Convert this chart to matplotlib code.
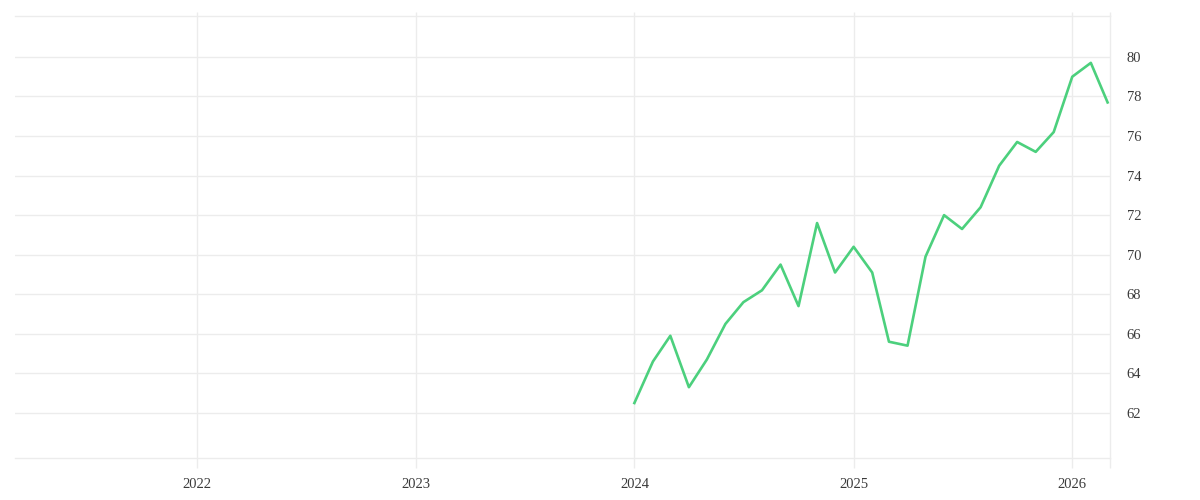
import matplotlib
matplotlib.use("Agg")
import matplotlib.pyplot as plt
import matplotlib.dates as mdates
import pandas as pd

# monthly values, Jan 2024 - Mar 2026
months = pd.date_range("2024-01-01", periods=27, freq="MS")
values = [62.5, 64.6, 65.9, 63.3, 64.7, 66.5, 67.6, 68.2, 69.5, 67.4,
          71.6, 69.1, 70.4, 69.1, 65.6, 65.4, 69.9, 72.0, 71.3, 72.4,
          74.5, 75.7, 75.2, 76.2, 79.0, 79.7, 77.7]

year_ticks = [pd.Timestamp(f"{y}-01-01") for y in [2022, 2023, 2024, 2025, 2026]]
year_labels = ["2022", "2023", "2024", "2025", "2026"]
y_ticks = [62, 64, 66, 68, 70, 72, 74, 76, 78, 80]

grid_col = "#ececec"
text_col = "#3a3a3a"

plt.rcParams["font.family"] = ["Liberation Serif", "DejaVu Serif"]

fig = plt.figure(figsize=(12, 5), dpi=100)
ax = fig.add_axes([15 / 1200, 1 - 458 / 500, 1095 / 1200, 442 / 500])

ax.plot(months, values, color="#4cd07d", linewidth=1.9, zorder=3)

x_left = pd.Timestamp("2021-03-03")
x_right = pd.Timestamp("2026-03-05")
ax.set_xlim(x_left, x_right)
ax.set_ylim(59.72, 82.07)

ax.set_xticks(year_ticks)
ax.set_xticklabels(year_labels)
# extra tick at the right edge so the border line runs past the frame like the grid
ax.set_xticks([mdates.date2num(x_right)], minor=True)
ax.set_yticks(y_ticks)

ax.grid(True, color=grid_col, linewidth=1)
ax.yaxis.tick_right()
ax.tick_params(axis="y", length=0, pad=12, labelsize=10.5, labelcolor=text_col)
ax.tick_params(axis="x", which="both", direction="out", length=7.2, width=1,
               color=grid_col, pad=7, labelsize=10.5, labelcolor=text_col)
ax.tick_params(axis="x", which="both", top=True, labeltop=False)

ax.spines["left"].set_visible(False)
for side in ["top", "bottom", "right"]:
    ax.spines[side].set_color(grid_col)
    ax.spines[side].set_linewidth(1)

# shorter ticks on top edge
for tick in ax.xaxis.get_major_ticks() + ax.xaxis.get_minor_ticks():
    tick.tick2line.set_markersize(3)

fig.savefig("out.png", dpi=100)
